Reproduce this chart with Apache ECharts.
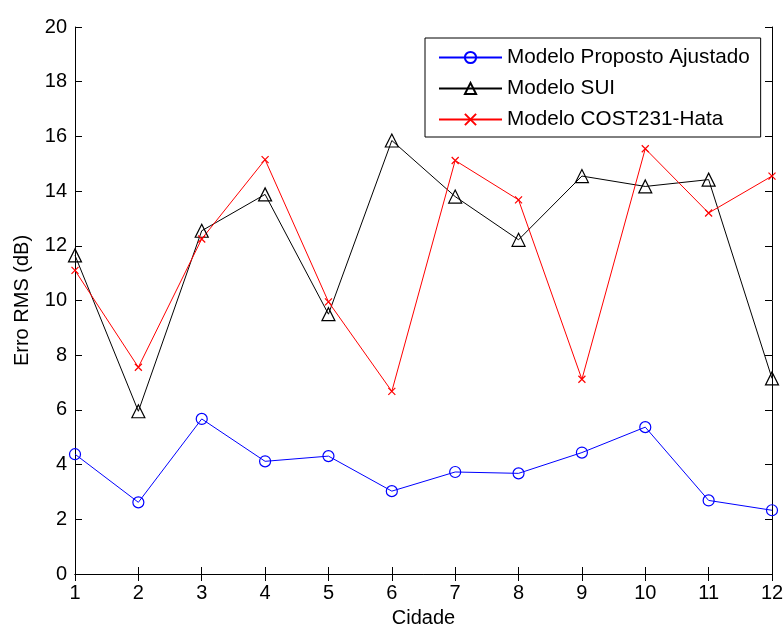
<!DOCTYPE html>
<html>
<head>
<meta charset="utf-8">
<script src="https://cdn.jsdelivr.net/npm/echarts@6/dist/echarts.min.js"></script>
<style>html,body{margin:0;padding:0;background:#fff}#c{width:783px;height:628px}</style>
</head>
<body>
<div id="c"></div>
<script>
var cidades = [1,2,3,4,5,6,7,8,9,10,11,12];
var propostoAjustado = [4.38,2.62,5.67,4.12,4.31,3.03,3.73,3.68,4.44,5.37,2.69,2.33];
var modeloSUI = [11.65,5.95,12.55,13.88,9.5,15.85,13.8,12.22,14.55,14.17,14.42,7.15];
var cost231Hata = [11.1,7.56,12.25,15.15,9.95,6.68,15.12,13.68,7.12,15.55,13.2,14.55];
var seriesNames = ['Modelo Proposto Ajustado','Modelo SUI','Modelo COST231-Hata'];

function pairs(vals){ return cidades.map(function(c,i){ return [c, vals[i]]; }); }
var font = 'Liberation Sans, Arial, Helvetica, sans-serif';
var chart = echarts.init(document.getElementById('c'));
var axLine = {show:true, lineStyle:{color:'#000', width:1}};
var tick = {show:true, inside:true, length:7, lineStyle:{color:'#000'}};
chart.setOption({
  animation:false,
  backgroundColor:'#fff',
  grid:{left:75, right:11, top:27, bottom:54, containLabel:false, outerBoundsMode:'none'},
  legend:{
    orient:'vertical', left:425, top:38,
    backgroundColor:'#fff', borderColor:'#000', borderWidth:1,
    padding:[9,11,7,13], itemGap:10,
    itemWidth:63, itemHeight:14,
    textStyle:{fontFamily:font, fontSize:20.7, color:'#000'},
    data:seriesNames
  },
  xAxis:[{
    type:'value', min:1, max:12, interval:1,
    name:'Cidade', nameLocation:'middle', nameGap:34,
    nameTextStyle:{fontFamily:font, fontSize:20, color:'#000'},
    axisLine:axLine, axisTick:tick, splitLine:{show:false},
    axisLabel:{fontFamily:font, fontSize:20, color:'#000', margin:9}
  },{
    type:'value', min:1, max:12, interval:1, position:'top',
    axisLine:axLine, axisTick:tick, splitLine:{show:false}, axisLabel:{show:false}
  }],
  yAxis:[{
    type:'value', min:0, max:20, interval:2,
    name:'Erro RMS (dB)', nameLocation:'middle', nameGap:43,
    nameTextStyle:{fontFamily:font, fontSize:20, color:'#000'},
    axisLine:axLine, axisTick:tick, splitLine:{show:false},
    axisLabel:{fontFamily:font, fontSize:20, color:'#000', margin:8}
  },{
    type:'value', min:0, max:20, interval:2, position:'right',
    axisLine:axLine, axisTick:tick, splitLine:{show:false}, axisLabel:{show:false}
  }],
  series:[{
    name:seriesNames[0], type:'line', data:pairs(propostoAjustado),
    symbol:'circle', symbolSize:11, showAllSymbol:true,
    lineStyle:{color:'#0000ff', width:1},
    itemStyle:{color:'rgba(0,0,0,0)', borderColor:'#0000ff', borderWidth:1.2}
  },{
    name:seriesNames[1], type:'line', data:pairs(modeloSUI),
    symbol:'triangle', symbolSize:13, showAllSymbol:true,
    lineStyle:{color:'#000000', width:1},
    itemStyle:{color:'rgba(0,0,0,0)', borderColor:'#000000', borderWidth:1.2}
  },{
    name:seriesNames[2], type:'line', data:pairs(cost231Hata),
    symbol:'path://M0,0L10,10M10,0L0,10', symbolSize:7, showAllSymbol:true,
    lineStyle:{color:'#ff0000', width:1},
    itemStyle:{color:'rgba(0,0,0,0)', borderColor:'#ff0000', borderWidth:1.2}
  }]
});
</script>
</body>
</html>
